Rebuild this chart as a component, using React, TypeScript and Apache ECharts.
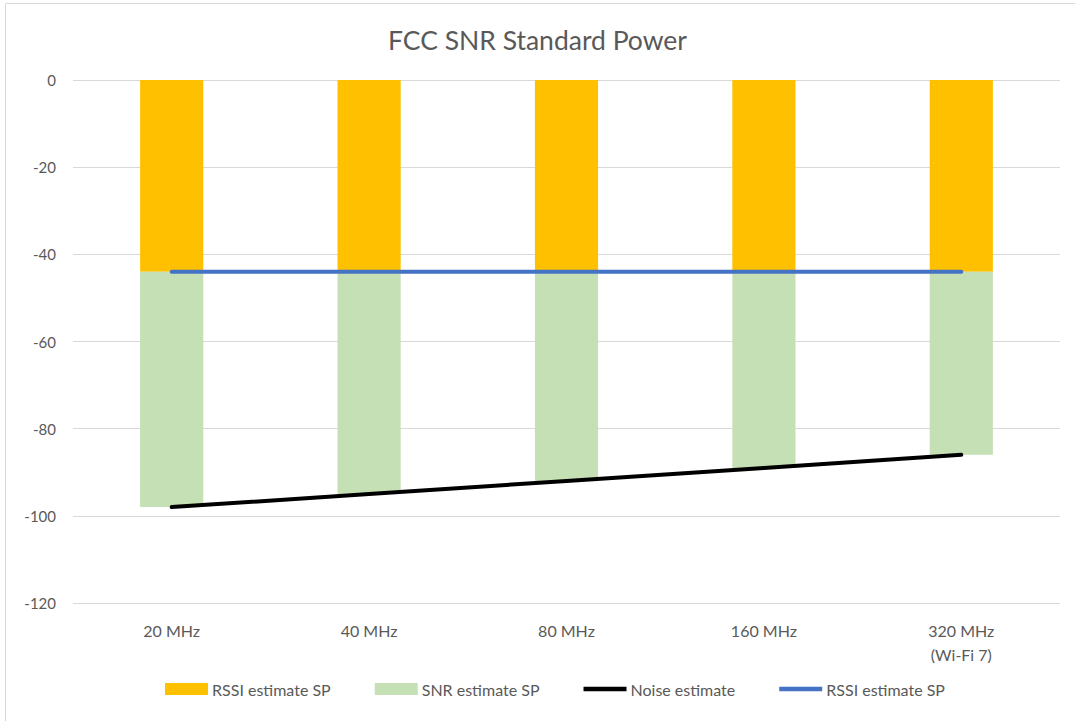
import React, { useEffect, useRef } from "react";
import * as echarts from "echarts";

const categories = ["20 MHz", "40 MHz", "80 MHz", "160 MHz", "320 MHz\n(Wi-Fi 7)"];
const rssiBar = [-44, -44, -44, -44, -44];
const snrBar = [-54, -51, -48, -45, -42];
const noiseLine = [-98, -95, -92, -89, -86];
const rssiLine = [-44, -44, -44, -44, -44];

const FONT = "Lato, 'Open Sans', sans-serif";
const TXT = "#595959";

export default function App() {
  const ref = useRef<HTMLDivElement>(null);
  useEffect(() => {
    document.body.style.margin = "0";
    const chart = echarts.init(ref.current!, null, { renderer: "svg" });
    const lineIcon = "path://M0,0 L40,0 L40,4 L0,4 Z";
    chart.setOption({
      animation: false,
      backgroundColor: "#ffffff",
      textStyle: { fontFamily: FONT },
      title: {
        text: "FCC SNR Standard Power",
        left: "center",
        top: 21,
        textStyle: { fontFamily: FONT, fontSize: 26.5, fontWeight: "normal", color: TXT },
      },
      graphic: [
        {
          type: "rect",
          shape: { x: 5.5, y: 3.5, width: 1080, height: 730 },
          style: { fill: "none", stroke: "#D9D9D9", lineWidth: 1 },
          silent: true,
          z: -10,
        },
      ],
      legend: {
        bottom: 19,
        left: 160,
        itemGap: 44,
        itemWidth: 43,
        itemHeight: 12,
        textStyle: { fontFamily: FONT, fontSize: 16, color: TXT, padding: [0, 0, 0, -1] },
        formatter: (n: string) => n.trim(),
        data: [
          { name: "RSSI estimate SP", icon: "rect" },
          { name: "SNR estimate SP", icon: "rect" },
          { name: "Noise estimate", icon: lineIcon, itemStyle: { color: "#000000" } },
          { name: "RSSI estimate SP ", icon: lineIcon, itemStyle: { color: "#4472C4" } },
        ],
      },
      grid: { left: 73, right: 15, top: 80, bottom: 118, containLabel: false },
      xAxis: {
        type: "category",
        data: categories,
        axisLine: { show: false, onZero: false },
        axisTick: { show: false },
        axisLabel: {
          fontFamily: FONT,
          fontSize: 16,
          color: TXT,
          margin: 15,
          lineHeight: 24,
          interval: 0,
        },
      },
      yAxis: {
        type: "value",
        min: -120,
        max: 0,
        interval: 20,
        axisLine: { show: false },
        axisTick: { show: false },
        axisLabel: { fontFamily: FONT, fontSize: 15, color: TXT, margin: 17 },
        splitLine: { lineStyle: { color: "#D9D9D9", width: 1 } },
      },
      series: [
        {
          name: "RSSI estimate SP",
          type: "bar",
          stack: "s",
          data: rssiBar,
          barWidth: "32%",
          itemStyle: { color: "#FFC000" },
        },
        {
          name: "SNR estimate SP",
          type: "bar",
          stack: "s",
          data: snrBar,
          barWidth: "32%",
          itemStyle: { color: "#C5E0B4" },
        },
        {
          name: "Noise estimate",
          type: "line",
          data: noiseLine,
          symbol: "none",
          lineStyle: { color: "#000000", width: 4, cap: "round" },
          itemStyle: { color: "#000000" },
          z: 5,
        },
        {
          name: "RSSI estimate SP ",
          type: "line",
          data: rssiLine,
          symbol: "none",
          lineStyle: { color: "#4472C4", width: 4, cap: "round" },
          itemStyle: { color: "#4472C4" },
          z: 5,
        },
      ],
    });
    return () => chart.dispose();
  }, []);
  return (
    <div
      ref={ref}
      style={{ position: "absolute", left: 0, top: 0, width: 1075, height: 721 }}
    />
  );
}
